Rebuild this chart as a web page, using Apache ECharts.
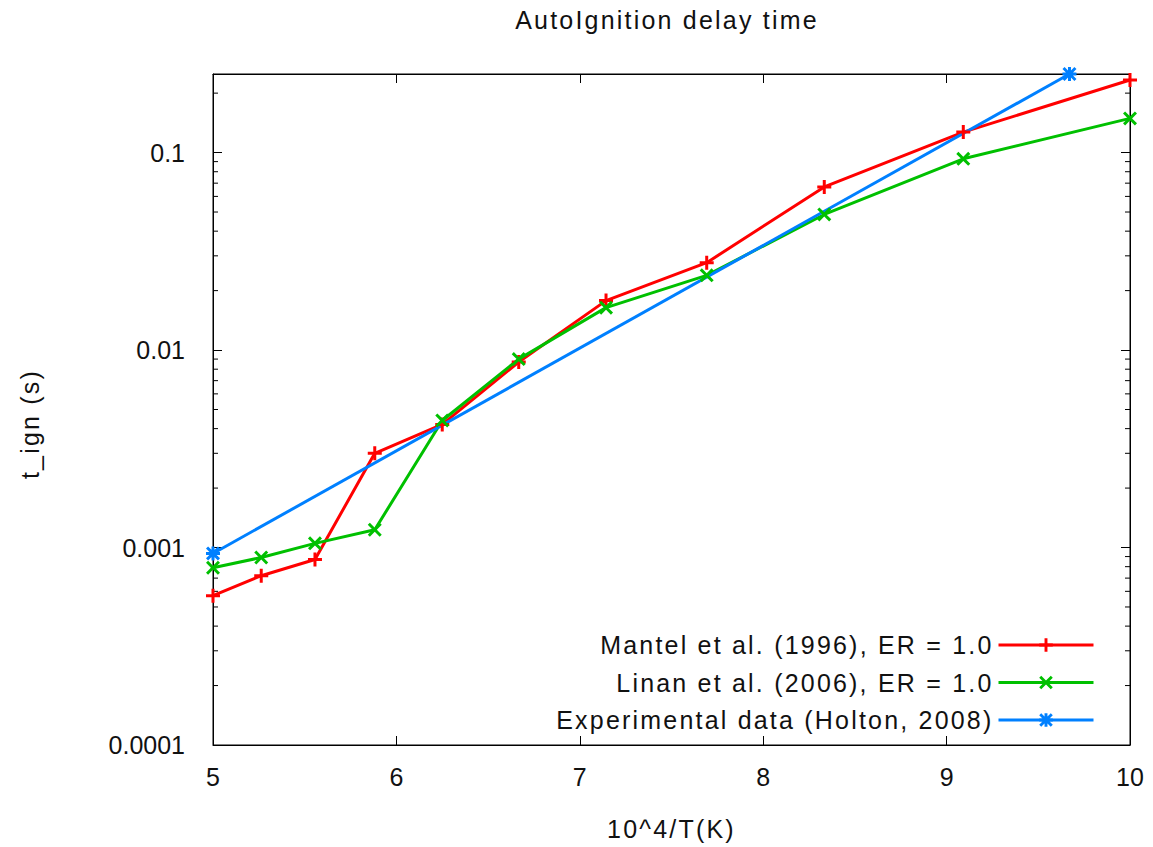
<!DOCTYPE html>
<html><head><meta charset="utf-8">
<script src="https://cdn.jsdelivr.net/npm/echarts@6/dist/echarts.min.js"></script>
<style>
html,body{margin:0;padding:0;background:#fff;}
#chart{width:1153px;height:847px;}
#chart text[style*="Arial"]{letter-spacing:2.2px;}
</style></head><body><div id="chart"></div>
<script>
// ---- data ----
const xValues = [5, 5.263, 5.556, 5.882, 6.25, 6.667, 7.143, 7.692, 8.333, 9.091, 10];
const mantel = [0.00057, 0.00072, 0.00087, 0.0030, 0.0042, 0.0087, 0.0178, 0.0277, 0.067, 0.127, 0.233];
const linan  = [0.00079, 0.00089, 0.00105, 0.00123, 0.0044, 0.0090, 0.0164, 0.0239, 0.0486, 0.093, 0.149];
const holtonX = [5, 9.67];
const holtonY = [0.000933, 0.25];
const seriesNames = ['Mantel et al. (1996), ER = 1.0', 'Linan et al. (2006), ER = 1.0', 'Experimental data (Holton, 2008)'];
const yTickLabels = ['0.0001', '0.001', '0.01', '0.1'];
const yMinorTicks = [0.0002, 0.0003, 0.0004, 0.0005, 0.0006, 0.0007, 0.0008, 0.0009,
                     0.002, 0.003, 0.004, 0.005, 0.006, 0.007, 0.008, 0.009,
                     0.02, 0.03, 0.04, 0.05, 0.06, 0.07, 0.08, 0.09, 0.2];
const titleText = 'AutoIgnition delay time';
const xName = '10^4/T(K)';
const yName = 't_ign (s)';

// ---- styles ----
const FONT_SPACED = "'Liberation Sans', Arial, sans-serif";
const FONT_PLAIN = "'Liberation Sans', sans-serif";
const TXT = '#111';
const FS = 25;
const X_MIN = 5, X_MAX = 10;
const PLUS = 'path://M5.5,0 h3 v5.5 h5.5 v3 h-5.5 v5.5 h-3 v-5.5 h-5.5 v-3 h5.5 z';
const CROSS = 'path://M2.1,0 L7,4.9 L11.9,0 L14,2.1 L9.1,7 L14,11.9 L11.9,14 L7,9.1 L2.1,14 L0,11.9 L4.9,7 L0,2.1 z';
const STAR = 'path://M5.5,0 h3 v5.5 h5.5 v3 h-5.5 v5.5 h-3 v-5.5 h-5.5 v-3 h5.5 z M2.1,0 L7,4.9 L11.9,0 L14,2.1 L9.1,7 L14,11.9 L11.9,14 L7,9.1 L2.1,14 L0,11.9 L4.9,7 L0,2.1 z';

function lineSeries(name, xs, ys, color, symbol) {
  return {
    name: name, type: 'line', data: xs.map((x, i) => [x, ys[i]]),
    symbol: symbol, symbolSize: 14, showAllSymbol: true, clip: false,
    lineStyle: { color: color, width: 3 },
    itemStyle: { color: color, borderWidth: 0 },
    emphasis: { disabled: true }, animation: false
  };
}

const chart = echarts.init(document.getElementById('chart'), null, { renderer: 'svg' });
const axisCommon = {
  axisLine: { show: true, lineStyle: { color: '#000', width: 1 } },
  axisTick: { show: true, inside: true, length: 9, lineStyle: { color: '#000', width: 1 } },
  splitLine: { show: false }
};
chart.setOption({
  animation: false,
  backgroundColor: '#fff',
  title: {
    text: titleText, left: 667, top: 7, textAlign: 'center', padding: 0,
    textStyle: { fontFamily: FONT_SPACED, fontSize: FS, fontWeight: 'normal', color: TXT }
  },
  grid: { left: 213, right: 23, top: 74, bottom: 102, show: true, borderColor: '#000', borderWidth: 1, containLabel: false },
  legend: {
    data: seriesNames, orient: 'vertical', align: 'right', right: 58, top: 630, padding: 0,
    itemWidth: 95, itemHeight: 17, itemGap: 7.5,
    lineStyle: { width: 3 },
    textStyle: { fontFamily: FONT_SPACED, fontSize: FS, color: TXT, lineHeight: 30 },
    selectedMode: false
  },
  xAxis: [
    Object.assign({}, axisCommon, {
      type: 'value', min: X_MIN, max: X_MAX, interval: 1, position: 'bottom',
      name: xName, nameLocation: 'middle', nameGap: 71,
      nameTextStyle: { fontFamily: FONT_SPACED, fontSize: FS, color: TXT },
      axisLabel: { fontFamily: FONT_PLAIN, fontSize: FS, color: TXT, margin: 19 }
    }),
    Object.assign({}, axisCommon, {
      type: 'value', min: X_MIN, max: X_MAX, interval: 1, position: 'top',
      axisLabel: { show: false }
    })
  ],
  yAxis: [
    Object.assign({}, axisCommon, {
      type: 'log', logBase: 10, min: 0.0001, max: 0.25, position: 'left',
      axisLabel: {
        fontFamily: FONT_PLAIN, fontSize: FS, color: TXT, margin: 28, showMaxLabel: false,
        formatter: function (v) {
          const e = Math.round(Math.log10(v));
          if (Math.abs(Math.log10(v) - e) > 1e-6) return '';
          return yTickLabels[e + 4] || '';
        }
      }
    }),
    Object.assign({}, axisCommon, {
      type: 'log', logBase: 10, min: 0.0001, max: 0.25, position: 'right',
      axisLabel: { show: false }
    })
  ],
  graphic: [{
    type: 'text', x: 30, y: 424, rotation: Math.PI / 2, silent: true,
    style: { text: yName, fontFamily: FONT_SPACED, fontSize: FS, fill: TXT, align: 'center', verticalAlign: 'middle' }
  }],
  series: [
    {
      type: 'custom', silent: true, xAxisIndex: 0, yAxisIndex: 0, clip: false,
      data: yMinorTicks.map(v => [X_MIN, v]),
      encode: { x: 0, y: 1 },
      renderItem: function (params, api) {
        const v = api.value(1);
        const pL = api.coord([X_MIN, v]);
        const pR = api.coord([X_MAX, v]);
        return { type: 'group', children: [
          { type: 'line', shape: { x1: pL[0], y1: pL[1], x2: pL[0] + 5, y2: pL[1] }, style: { stroke: '#000', lineWidth: 1 } },
          { type: 'line', shape: { x1: pR[0], y1: pR[1], x2: pR[0] - 5, y2: pR[1] }, style: { stroke: '#000', lineWidth: 1 } }
        ]};
      }
    },
    lineSeries(seriesNames[0], xValues, mantel, '#ff0000', PLUS),
    lineSeries(seriesNames[1], xValues, linan, '#00c000', CROSS),
    lineSeries(seriesNames[2], holtonX, holtonY, '#0080ff', STAR)
  ]
});
</script></body></html>
